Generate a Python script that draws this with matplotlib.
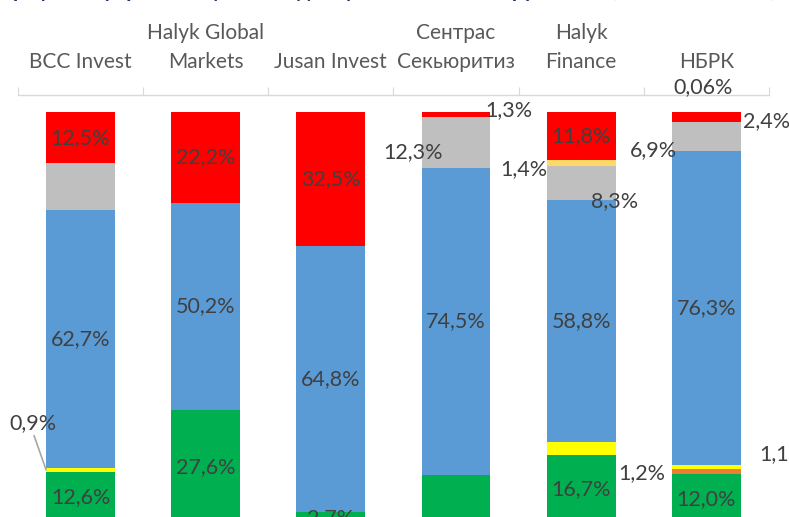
import matplotlib
matplotlib.use("Agg")
import matplotlib.pyplot as plt
import numpy as np

plt.rcParams['font.family'] = ['Lato', 'DejaVu Sans']

categories = ["BCC Invest", "Halyk Global\nMarkets", "Jusan Invest", "Сентрас\nСекьюритиз",
              "Halyk\nFinance", "НБРК"]

# stacked series, bottom to top
green = [12.6, 27.6, 2.7, 11.9, 16.7, 12.0]
orange = [0.0, 0.0, 0.0, 0.0, 0.0, 1.2]
yellow = [0.9, 0.0, 0.0, 0.0, 3.0, 1.1]
blue = [62.7, 50.2, 64.8, 74.5, 58.8, 76.3]
gray = [11.3, 0.0, 0.0, 12.3, 8.3, 6.9]
light_yellow = [0.0, 0.0, 0.0, 0.0, 1.4, 0.0]
red = [12.5, 22.2, 32.5, 1.3, 11.8, 2.4]
top_small = [0.0, 0.0, 0.0, 0.0, 0.0, 0.06]

series = [green, orange, yellow, blue, gray, light_yellow, red, top_small]
colors = ["#00B050", "#ED7D31", "#FFFF00", "#5B9BD5", "#BFBFBF", "#FFD966", "#FF0000", "#C55A11"]

inside_labels = {
    (0, 0), (0, 1), (0, 2), (0, 4), (0, 5),
    (3, 0), (3, 1), (3, 2), (3, 3), (3, 4), (3, 5),
    (6, 0), (6, 1), (6, 2), (6, 4),
}
outside_labels = {
    (6, 3): (53, 4),
    (4, 3): (-43, -10),
    (5, 4): (-57, -6),
    (4, 4): (33, -18),
    (7, 5): (-3, 25),
    (6, 5): (60, -4),
    (4, 5): (-53, -14),
    (1, 5): (-65, -1.5),
    (2, 5): (76, 13),
}

def fmt(v):
    if v < 0.1:
        s = f"{v:.2f}"
    else:
        s = f"{v:.1f}"
    return s.replace('.', ',') + '%'

fig = plt.figure(figsize=(7.89, 5.17), dpi=100)
ax = fig.add_axes([17.9 / 789, -6.5 / 517, 751.1 / 789, 428.5 / 517])

x = np.arange(len(categories))
width = 0.55
bottom = np.zeros(len(categories))
label_color = "#404040"
fs = 15.5

for si, (vals, col) in enumerate(zip(series, colors)):
    vals = np.array(vals)
    ax.bar(x, vals, width, bottom=bottom, color=col, linewidth=0)
    for ci in range(len(categories)):
        v = vals[ci]
        if v <= 0:
            continue
        cy = bottom[ci] + v / 2
        if (si, ci) in inside_labels:
            ax.text(x[ci], cy, fmt(v), ha='center', va='center', color=label_color, fontsize=fs)
        elif (si, ci) in outside_labels:
            dx, dy = outside_labels[(si, ci)]
            ax.annotate(fmt(v), xy=(x[ci], cy), xytext=(dx, dy), textcoords='offset pixels',
                        ha='center', va='center', color=label_color, fontsize=fs,
                        annotation_clip=False)
        elif (si, ci) == (2, 0):
            ax.annotate(fmt(v), xy=(x[ci] - width / 2, cy), xytext=(-13, 47),
                        textcoords='offset pixels', ha='center', va='center',
                        color=label_color, fontsize=fs, annotation_clip=False,
                        arrowprops=dict(arrowstyle='-', color='#A6A6A6', lw=1.2,
                                        shrinkA=0, shrinkB=0, relpos=(0.5, 0.0)))
    bottom = bottom + vals

ax.set_xlim(-0.5, 5.5)
ax.set_ylim(0, 104.1)

for s in ['left', 'right', 'bottom']:
    ax.spines[s].set_visible(False)
ax.spines['top'].set_color('#D9D9D9')
ax.spines['top'].set_linewidth(1.0)
ax.yaxis.set_visible(False)
ax.xaxis.tick_top()
ax.set_xticks(np.arange(-0.5, 6.0, 1.0))
ax.set_xticklabels([])
ax.set_xticks(x, minor=True)
ax.set_xticklabels(categories, minor=True, color="#595959", fontsize=15)
for t in ax.get_xticklabels(minor=True):
    t.set_linespacing(1.55)
ax.tick_params(axis='x', which='major', length=6, color='#D9D9D9', direction='out')
ax.tick_params(axis='x', which='minor', length=0, pad=16.5)

fig.text(775 / 789, 1 + 3 / 517, "Структура портфелей управляющих по видам финансовых инструментов (на 01.01.2024 г.)",
         ha='right', va='baseline', color='#1F3864', fontsize=15, fontweight='bold')

fig.savefig('out.png', dpi=100)
